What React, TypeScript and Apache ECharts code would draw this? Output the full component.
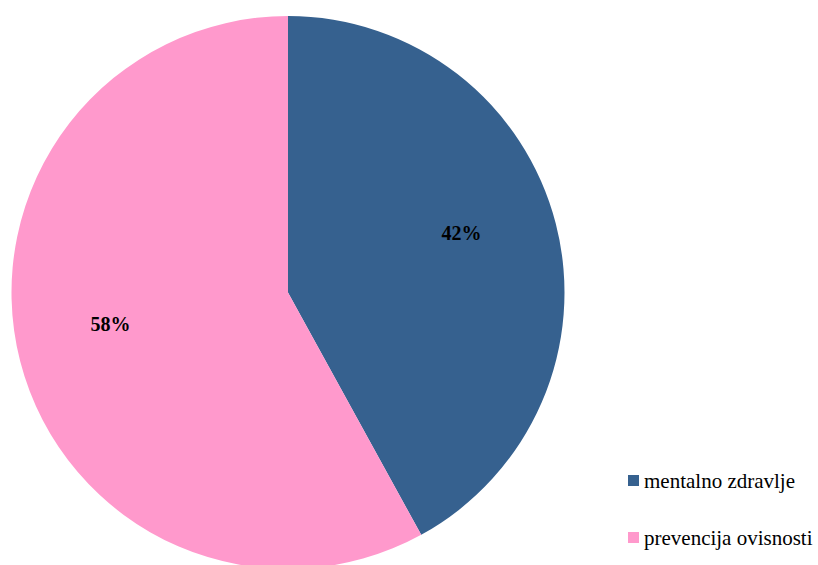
import React, { useEffect, useRef } from "react";
import * as echarts from "echarts";

const categories = ["mentalno zdravlje", "prevencija ovisnosti"];
const values = [42, 58];
const colors = ["#36618F", "#FF99CC"];

const SERIF = "Liberation Serif";

export default function App() {
  const ref = useRef<HTMLDivElement>(null);
  useEffect(() => {
    if (!ref.current) return;
    const chart = echarts.init(ref.current, undefined, { renderer: "svg" });
    const data = categories.map((name, i) => ({ name, value: values[i] }));
    chart.setOption({
      animation: false,
      color: colors,
      textStyle: { fontFamily: SERIF },
      legend: {
        orient: "vertical",
        left: 628,
        top: 470,
        itemWidth: 11,
        itemHeight: 11,
        itemGap: 36,
        icon: "rect",
        selectedMode: false,
        data: categories.map((name, i) => ({ name, itemStyle: { color: colors[i] } })),
        textStyle: {
          fontFamily: SERIF,
          fontSize: 21,
          lineHeight: 21,
          color: "#000",
        },
        itemStyle: { borderWidth: 0 },
        padding: 0,
      },
      series: [
        {
          type: "pie",
          center: [288, 292.5],
          radius: [0, 276.5],
          startAngle: 90,
          clockwise: true,
          silent: true,
          label: { show: false },
          labelLine: { show: false },
          itemStyle: { borderWidth: 0 },
          emphasis: { disabled: true },
          data,
        },
        {
          type: "pie",
          center: [288, 292.5],
          radius: [80, 276.5],
          startAngle: 90,
          clockwise: true,
          silent: true,
          itemStyle: { color: "rgba(0,0,0,0)", borderWidth: 0 },
          emphasis: { disabled: true },
          label: {
            show: true,
            position: "inside",
            formatter: "{d}%",
            fontFamily: SERIF,
            fontWeight: "bold",
            fontSize: 20,
            color: "#000",
            offset: [-2, -14],
          },
          labelLine: { show: false },
          data,
        },
      ],
    });
    return () => chart.dispose();
  }, []);
  return (
    <div
      ref={ref}
      style={{ position: "fixed", left: 0, top: 0, width: 818, height: 565, background: "#fff" }}
    />
  );
}
